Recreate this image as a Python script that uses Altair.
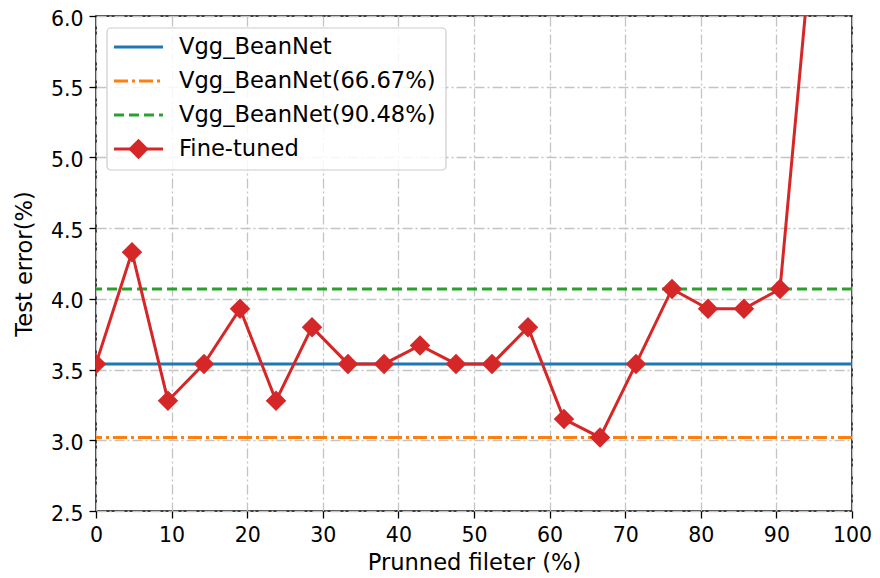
import altair as alt
import pandas as pd

# data
pruned = [0, 4.76, 9.52, 14.29, 19.05, 23.81, 28.57, 33.33, 38.10, 42.86, 47.62,
          52.38, 57.14, 61.90, 66.67, 71.43, 76.19, 80.95, 85.71, 90.48, 95.24]
fine_tuned = [3.54, 4.33, 3.28, 3.54, 3.93, 3.28, 3.80, 3.54, 3.54, 3.67, 3.54,
              3.54, 3.80, 3.15, 3.02, 3.54, 4.07, 3.93, 3.93, 4.07, 6.84]
ref_names = ["Vgg_BeanNet", "Vgg_BeanNet(66.67%)", "Vgg_BeanNet(90.48%)"]
ref_values = [3.54, 3.02, 4.07]
ref_colors = ["#1f77b4", "#ff7f0e", "#2ca02c"]
ref_dashes = [[1, 0], [14, 4, 3, 4], [10, 5]]
fine_name = "Fine-tuned"
fine_color = "#d62728"
x_ticks = list(range(0, 101, 10))
y_ticks = [2.5, 3.0, 3.5, 4.0, 4.5, 5.0, 5.5, 6.0]

W, H = 756, 495
FONT = "DejaVu Sans"
FS_LABEL = 20.5
FS_TITLE = 22.6
FS_LEGEND = 22.6

df = pd.DataFrame({"x": pruned, "y": fine_tuned})

xscale = alt.Scale(domain=[0, 100], nice=False, zero=False)
yscale = alt.Scale(domain=[2.5, 6.0], nice=False, zero=False)

xaxis = alt.Axis(values=x_ticks, title="Prunned fileter (%)", format="d",
                 labelPadding=7, titlePadding=6, labelFlush=False)
yaxis = alt.Axis(values=y_ticks, title="Test error(%)", format=".1f",
                 labelPadding=6, titlePadding=14, labelOffset=3, labelFlush=False)

base = alt.Chart(df)

line = base.mark_line(color=fine_color, strokeWidth=3, clip=True).encode(
    x=alt.X("x:Q", scale=xscale, axis=xaxis),
    y=alt.Y("y:Q", scale=yscale, axis=yaxis),
)
pts = base.mark_point(shape="diamond", filled=True, size=420, color=fine_color,
                      opacity=1, clip=True).encode(
    x=alt.X("x:Q", scale=xscale),
    y=alt.Y("y:Q", scale=yscale),
)

layers = []
for name, val, col, dash in zip(ref_names, ref_values, ref_colors, ref_dashes):
    rdf = pd.DataFrame({"y": [val], "name": [name]})
    layers.append(
        alt.Chart(rdf).mark_rule(color=col, strokeWidth=3, strokeDash=dash).encode(
            y=alt.Y("y:Q", scale=yscale)
        )
    )

# legend (drawn in plot pixel space)
legend_layers = []
box = alt.Chart(pd.DataFrame({"a": [0]})).mark_rect(
    fill="white", fillOpacity=0.85, stroke="#cccccc", strokeWidth=1.2, cornerRadius=4
).encode(x=alt.value(11), x2=alt.value(350), y=alt.value(12), y2=alt.value(154))
legend_layers.append(box)
rows_y = [31, 65, 99, 133]
for i, (name, col, dash) in enumerate(zip(ref_names, ref_colors, ref_dashes)):
    d = pd.DataFrame({"label": [name]})
    legend_layers.append(
        alt.Chart(d).mark_rule(color=col, strokeWidth=3, strokeDash=dash).encode(
            x=alt.value(18), x2=alt.value(67), y=alt.value(rows_y[i])
        )
    )
    legend_layers.append(
        alt.Chart(d).mark_text(align="left", baseline="middle", font=FONT,
                               fontSize=FS_LEGEND, color="black").encode(
            x=alt.value(83), y=alt.value(rows_y[i]), text="label:N"
        )
    )
fd = pd.DataFrame({"label": [fine_name]})
legend_layers.append(
    alt.Chart(fd).mark_rule(color=fine_color, strokeWidth=3).encode(
        x=alt.value(18), x2=alt.value(67), y=alt.value(rows_y[3])
    )
)
legend_layers.append(
    alt.Chart(fd).mark_point(shape="diamond", filled=True, size=420, color=fine_color,
                             opacity=1).encode(
        x=alt.value(42.5), y=alt.value(rows_y[3])
    )
)
legend_layers.append(
    alt.Chart(fd).mark_text(align="left", baseline="middle", font=FONT,
                            fontSize=FS_LEGEND, color="black").encode(
        x=alt.value(83), y=alt.value(rows_y[3]), text="label:N"
    )
)

chart = alt.layer(*layers, line, pts, *legend_layers).properties(
    width=W, height=H,
    autosize=alt.AutoSizeParams(type="none"),
    padding={"left": 88, "top": 8, "right": 20, "bottom": 66},
).configure_view(
    stroke="black", strokeWidth=1.5
).configure_axis(
    grid=True, gridColor="#c4c4c4", gridDash=[10, 3, 2, 3], gridWidth=1.3,
    domain=False, ticks=True, tickColor="black", tickWidth=1.3, tickSize=7,
    labelFont=FONT, labelFontSize=FS_LABEL, labelColor="black",
    titleFont=FONT, titleFontSize=FS_TITLE, titleColor="black", titleFontWeight="normal",
)

chart.save("out.html", embed_options={"renderer": "svg", "actions": False})
